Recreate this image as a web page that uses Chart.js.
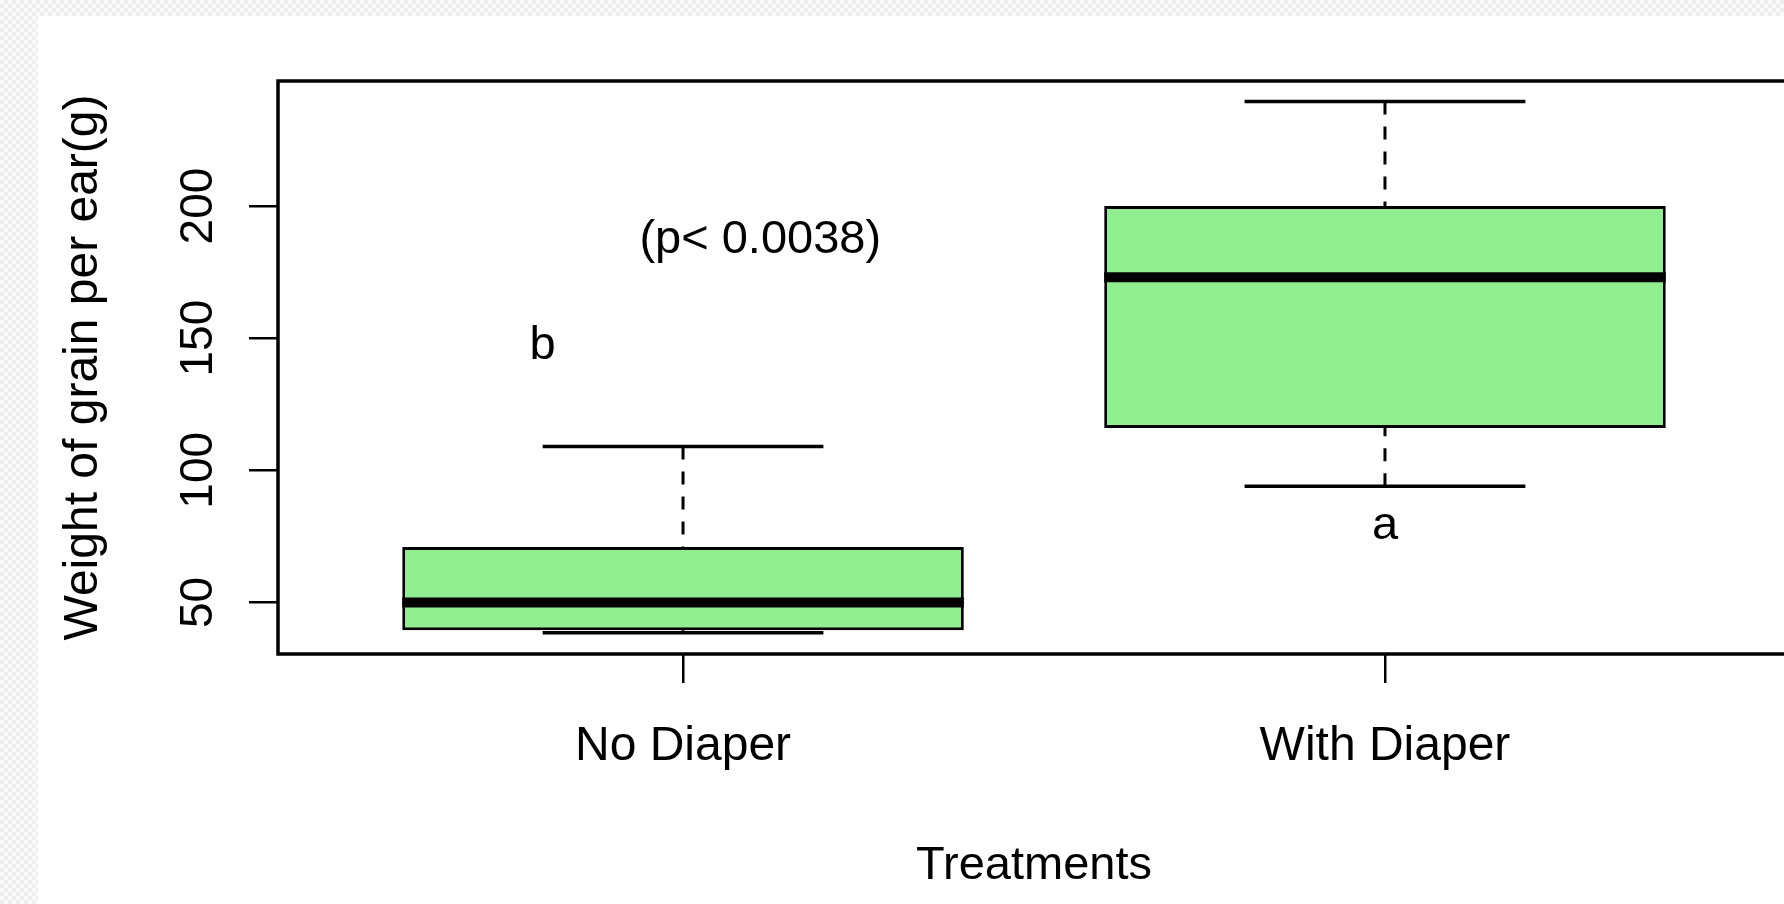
<!DOCTYPE html>
<html>
<head>
<meta charset="utf-8">
<script src="https://cdn.jsdelivr.net/npm/chart.js@4.4.1/dist/chart.umd.min.js"></script>
<style>
  html, body { margin: 0; padding: 0; width: 1784px; height: 904px; overflow: hidden; }
  body {
    background-color: #f6f6f6;
    background-image: repeating-conic-gradient(#efefef 0% 25%, #fafafa 0% 50%);
    background-size: 8px 8px;
  }
  #wrap { position: absolute; left: 38px; top: 16px; width: 1770px; height: 888px; background: #fff; }
</style>
</head>
<body>
<div id="wrap"><canvas id="boxChart" width="1770" height="888"></canvas></div>
<script>
// box plot values
var categories = ["No Diaper", "With Diaper"];
var catPos = [1, 2];
var lowWhisker = [38.5, 94];
var q1 = [39.5, 116];
var medians = [50, 173];
var q3 = [71, 200];
var highWhisker = [109, 239.5];
var yTicks = [50, 100, 150, 200];

// letters and p-value written on the plot
var notes = ["(p< 0.0038)", "b", "a"];
var noteX = [1.11, 0.8, 2];
var noteY = [187, 147, 79];

var fontFam = "'Liberation Sans', Arial, sans-serif";

var boxData = catPos.map(function (x, i) {
    return { x: x, y: [q1[i], q3[i]] };
});

// whiskers, caps, medians, frame and notes
var boxParts = {
    id: 'boxParts',
    beforeDatasetsDraw: function (chart) {
        var ctx = chart.ctx;
        var xs = chart.scales.x, ys = chart.scales.y;
        var bars = chart.getDatasetMeta(0).data;
        ctx.save();
        ctx.strokeStyle = '#000';
        for (var i = 0; i < catPos.length; i++) {
            var cx = xs.getPixelForValue(catPos[i]);
            var capHalf = bars[i].width / 4;
            ctx.lineWidth = 3;
            ctx.setLineDash([13, 12]);
            ctx.beginPath();
            ctx.moveTo(cx, ys.getPixelForValue(highWhisker[i]));
            ctx.lineTo(cx, ys.getPixelForValue(q3[i]));
            ctx.moveTo(cx, ys.getPixelForValue(lowWhisker[i]));
            ctx.lineTo(cx, ys.getPixelForValue(q1[i]));
            ctx.stroke();
            ctx.setLineDash([]);
            ctx.lineWidth = 3.5;
            ctx.beginPath();
            ctx.moveTo(cx - capHalf, ys.getPixelForValue(highWhisker[i]));
            ctx.lineTo(cx + capHalf, ys.getPixelForValue(highWhisker[i]));
            ctx.moveTo(cx - capHalf, ys.getPixelForValue(lowWhisker[i]));
            ctx.lineTo(cx + capHalf, ys.getPixelForValue(lowWhisker[i]));
            ctx.stroke();
        }
        ctx.restore();
    },
    afterDatasetsDraw: function (chart) {
        var ctx = chart.ctx;
        var ys = chart.scales.y;
        var bars = chart.getDatasetMeta(0).data;
        ctx.save();
        ctx.strokeStyle = '#000';
        ctx.lineWidth = 10;
        for (var i = 0; i < bars.length; i++) {
            var half = bars[i].width / 2;
            var my = ys.getPixelForValue(medians[i]);
            ctx.beginPath();
            ctx.moveTo(bars[i].x - half, my);
            ctx.lineTo(bars[i].x + half, my);
            ctx.stroke();
        }
        ctx.restore();
    },
    afterDraw: function (chart) {
        var ctx = chart.ctx;
        var a = chart.chartArea;
        var xs = chart.scales.x, ys = chart.scales.y;
        ctx.save();
        ctx.strokeStyle = '#000';
        ctx.lineWidth = 3.5;
        ctx.strokeRect(a.left, a.top, a.right - a.left, a.bottom - a.top);
        ctx.fillStyle = '#000';
        ctx.font = "47px " + fontFam;
        ctx.textAlign = 'center';
        ctx.textBaseline = 'middle';
        for (var i = 0; i < notes.length; i++) {
            ctx.fillText(notes[i], xs.getPixelForValue(noteX[i]), ys.getPixelForValue(noteY[i]));
        }
        ctx.restore();
    }
};

var ctx = document.getElementById('boxChart').getContext('2d');
var myChart = new Chart(ctx, {
    type: 'bar',
    data: {
        datasets: [{
            data: boxData,
            backgroundColor: '#90ee90',
            borderColor: '#000',
            borderWidth: 3,
            borderSkipped: false,
            barPercentage: 0.8,
            categoryPercentage: 1
        }]
    },
    options: {
        responsive: false,
        animation: false,
        layout: { padding: { top: 65, left: 0, right: 18, bottom: 0 } },
        plugins: {
            legend: { display: false },
            tooltip: { enabled: false }
        },
        scales: {
            x: {
                type: 'linear',
                offset: false,
                min: 0.423,
                max: 2.577,
                afterBuildTicks: function (axis) {
                    axis.ticks = catPos.map(function (v) { return { value: v }; });
                },
                afterFit: function (axis) { axis.height = 250; },
                border: { display: false },
                grid: { offset: false, drawOnChartArea: false, drawTicks: true, tickLength: 29, color: '#000', lineWidth: 2.5 },
                ticks: {
                    autoSkip: false,
                    maxRotation: 0,
                    padding: 35,
                    color: '#000',
                    font: { family: fontFam, size: 48 },
                    callback: function (v) {
                        var i = catPos.indexOf(v);
                        return i >= 0 ? categories[i] : '';
                    }
                },
                title: {
                    display: true,
                    text: 'Treatments',
                    color: '#000',
                    font: { family: fontFam, size: 47 },
                    padding: { top: 0, bottom: 10 }
                }
            },
            y: {
                min: 30.5,
                max: 247.3,
                afterBuildTicks: function (axis) {
                    axis.ticks = yTicks.map(function (v) { return { value: v }; });
                },
                afterFit: function (axis) { axis.width = 240; },
                border: { display: false },
                grid: { drawOnChartArea: false, drawTicks: true, tickLength: 29, color: '#000', lineWidth: 2.5 },
                ticks: {
                    autoSkip: false,
                    minRotation: 90,
                    maxRotation: 90,
                    crossAlign: 'center',
                    padding: 11,
                    color: '#000',
                    font: { family: fontFam, size: 46 }
                },
                title: {
                    display: true,
                    text: 'Weight of grain per ear(g)',
                    color: '#000',
                    font: { family: fontFam, size: 48 },
                    padding: { top: 17, bottom: 0 }
                }
            }
        }
    },
    plugins: [boxParts]
});
</script>
</body>
</html>
